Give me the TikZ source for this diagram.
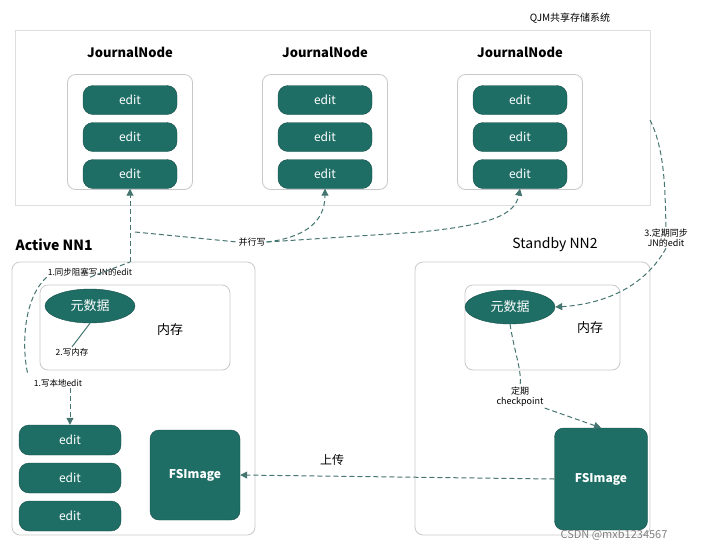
\documentclass[tikz,border=0pt]{standalone}
\usepackage{fontspec}
\setmainfont{Noto Sans CJK SC}
\usetikzlibrary{arrows.meta,shapes.geometric}
\definecolor{teal1}{HTML}{1E6E66}
\definecolor{bord}{HTML}{C8C8C8}
\begin{document}
\begin{tikzpicture}[x=1pt,y=-1pt,
 box/.style={draw=bord,line width=0.8pt,rounded corners=8pt},
 pill/.style={fill=teal1,draw=teal1!70!black,rounded corners=10pt,minimum width=94pt,minimum height=29pt,text=white,font=\fontsize{12}{12}\selectfont},
 ell/.style={fill=teal1,draw=teal1!70!black,ellipse,minimum width=90pt,minimum height=34pt,text=white,font=\fontsize{13}{13}\selectfont,inner sep=0pt},
 big/.style={fill=teal1,draw=teal1!70!black,rounded corners=9pt,text=white,font=\bfseries\fontsize{12}{12}\selectfont},
 lbl/.style={font=\fontsize{8.5}{9}\selectfont,inner sep=1pt},
 dsh/.style={draw=teal1!60!gray,line width=1pt,dash pattern=on 5pt off 3pt},
 arr/.style={dsh,-{Triangle[length=7pt,width=7pt]}}]
\useasboundingbox (0,0) rectangle (707,550);
\node[font=\fontsize{10}{10}\selectfont] (qjm) at (570,18) {QJM共享存储系统};
\draw[draw=bord!60,line width=0.6pt] (15,30) rectangle (650,205);
\foreach \i/\x in {1/130,2/325,3/520}{
 \node[font=\bfseries\fontsize{13}{13}\selectfont] (jl\i) at (\x,52) {JournalNode};
 \node[box,minimum width=125pt,minimum height=115pt] (jb\i) at (\x,132) {};
 \node[pill] (je\i a) at (\x,100) {edit};
 \node[pill] (je\i b) at (\x,137) {edit};
 \node[pill] (je\i c) at (\x,174) {edit};
}
% Active
\node[font=\bfseries\fontsize{14}{14}\selectfont,anchor=west] (al) at (12,245) {Active NN1};
\node[box,minimum width=243pt,minimum height=273pt] (ab) at (133.5,398.5) {};
\node[box,minimum width=190pt,minimum height=85pt] (am) at (135,327.5) {};
\node[ell] (ae) at (90,306) {元数据};
\node[font=\fontsize{13}{13}\selectfont] (amt) at (170,330) {内存};
\node[lbl] (w2) at (72,352) {2.写内存};
\node[lbl] (s1) at (90,272) {1.同步阻塞写JN的edit};
\node[lbl] (w1) at (58,383) {1.写本地edit};
\node[pill,minimum width=102pt,minimum height=30pt] (le1) at (70,440) {edit};
\node[pill,minimum width=102pt,minimum height=30pt] (le2) at (70,478) {edit};
\node[pill,minimum width=102pt,minimum height=30pt] (le3) at (70,516) {edit};
\node[big,minimum width=90pt,minimum height=90pt] (af) at (195,475) {FSImage};
% Standby
\node[font=\fontsize{14}{14}\selectfont] (sl) at (555,245) {Standby NN2};
\node[box,minimum width=235pt,minimum height=273pt] (sb) at (532.5,398.5) {};
\node[box,minimum width=155pt,minimum height=85pt] (sm) at (542.5,327.5) {};
\node[ell] (se) at (510,307) {元数据};
\node[font=\fontsize{13}{13}\selectfont] (smt) at (590,328) {内存};
\node[lbl,align=center,font=\fontsize{9}{10}\selectfont] (ck) at (520,397) {定期\\checkpoint};
\node[big,minimum width=93pt,minimum height=102pt] (sf) at (601,479) {FSImage};
\node[lbl,align=center,font=\fontsize{9}{10}\selectfont] (sy) at (666,238) {3.定期同步\\JN的edit};
\node[font=\fontsize{12}{12}\selectfont] (up) at (332,460) {上传};
\node[lbl,font=\fontsize{9}{9}\selectfont] (bx) at (252,242) {并行写};
% connectors
\coordinate (c0) at (130,262);
\coordinate (c1) at (135,232);
\coordinate (c2) at (650,120);
\draw[arr] (c0) -- (je1c.south);
\draw[dsh] (c1) -- (bx.west);
\draw[arr] (bx.east) .. controls (300,238) and (325,225) .. (je2c.south);
\draw[arr] (bx.east) -- (420,232) .. controls (490,225) and (515,215) .. (je3c.south);
\draw[dsh] (c2) .. controls (665,150) and (665,190) .. (sy.north);
\draw[arr] (sy.south) .. controls (640,295) and (590,305) .. (se.east);
\draw[dsh] (s1.south west) .. controls (22,300) and (22,350) .. (28,375);
\draw[dsh] (s1.south) -- (c0);
\draw[draw=teal1!60!gray,line width=1pt] (w2.north) -- (ae.south);
\draw[arr] (w1.south-|le1) -- (le1.north);
\draw[dsh] (se.south) .. controls (515,355) and (522,370) .. (ck.north);
\draw[arr] (ck.south east) -- (sf.north);
\draw[arr] (sf.west) -- (af.east);
\node[font=\fontsize{11}{11}\selectfont,text=gray] (wm) at (614,535) {CSDN @mxb1234567};
\end{tikzpicture}
\end{document}
